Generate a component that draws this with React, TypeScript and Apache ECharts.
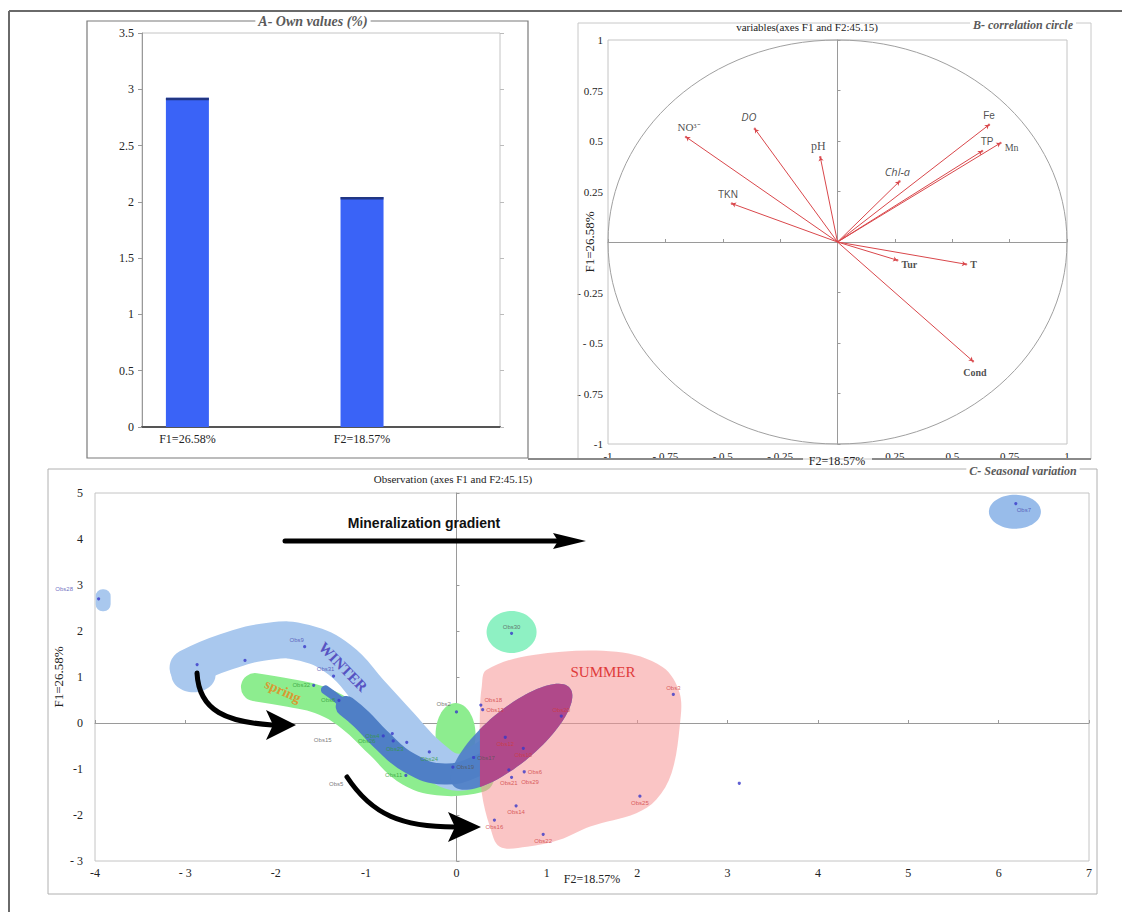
import React, { useEffect, useRef } from 'react';
import * as echarts from 'echarts';

// ---------- Panel A : eigenvalues ----------
const EIGEN_CATEGORIES = ['F1=26.58%', 'F2=18.57%'];
const EIGEN_VALUES = [2.924, 2.043];

// ---------- Panel B : correlation circle ----------
const VARIABLES = ['NO³⁻', 'DO', 'pH', 'TKN', 'Chl-a', 'Fe', 'TP', 'Mn', 'Tur', 'T', 'Cond'];
const VAR_F2 = [-0.66, -0.36, -0.075, -0.46, 0.27, 0.66, 0.63, 0.71, 0.26, 0.56, 0.59];
const VAR_F1 = [0.52, 0.56, 0.42, 0.19, 0.30, 0.58, 0.45, 0.49, -0.09, -0.11, -0.59];

// ---------- Panel C : observations ----------
const OBS_NAMES = [
  'Obs28', 'Obs9', '', '', 'Obs31', 'Obs7',
  'Obs32', 'Obs8', 'Obs4', 'Obs26', '', 'Obs23', 'Obs24', 'Obs11',
  'Obs15', 'Obs5', 'Obs2', 'Obs19', 'Obs17', 'Obs30',
  'Obs3', 'Obs18', 'Obs13', 'Obs20', 'Obs12', 'Obs10', 'Obs6', 'Obs21', 'Obs29',
  'Obs14', 'Obs16', 'Obs22', 'Obs25', '',
];
const OBS_F2 = [
  -3.96, -1.68, -2.34, -2.87, -1.36, 6.19,
  -1.58, -1.30, -0.81, -0.70, -0.71, -0.55, -0.30, -0.56,
  -1.48, -1.33, 0.0, -0.04, 0.19, 0.61,
  2.40, 0.27, 0.29, 1.16, 0.54, 0.74, 0.75, 0.58, 0.61,
  0.66, 0.42, 0.96, 2.03, 3.13,
];
const OBS_F1 = [
  2.70, 1.66, 1.36, 1.27, 1.02, 4.77,
  0.82, 0.49, -0.28, -0.39, -0.23, -0.42, -0.63, -1.14,
  -0.37, -1.33, 0.24, -0.96, -0.75, 1.95,
  0.62, 0.39, 0.29, 0.15, -0.31, -0.55, -1.06, -1.02, -1.18,
  -1.80, -2.11, -2.42, -1.59, -1.31,
];
// W winter, P spring, O other, S summer
const OBS_GROUP = [
  'W', 'W', 'W', 'W', 'W', 'W',
  'P', 'P', 'P', 'P', 'P', 'P', 'P', 'P',
  'O', 'O', 'O', 'O', 'O', 'O',
  'S', 'S', 'S', 'S', 'S', 'S', 'S', 'S', 'S',
  'S', 'S', 'S', 'S', 'S',
];
const OBS_DOT = [
  1, 1, 1, 1, 1, 1,
  1, 1, 1, 1, 1, 1, 1, 1,
  0, 0, 1, 1, 1, 1,
  1, 1, 1, 1, 1, 1, 1, 1, 1,
  1, 1, 1, 1, 1,
];
const OBS_LABEL_POS = [
  'left', 'top', 'top', 'top', 'top', 'bottom',
  'left', 'left', 'left', 'left', 'left', 'bottom', 'bottom', 'left',
  'inside', 'inside', 'left', 'right', 'right', 'top',
  'top', 'right', 'right', 'top', 'bottom', 'bottom', 'right', 'bottom', 'right',
  'bottom', 'bottom', 'bottom', 'bottom', 'bottom',
];
const LABEL_OFFSETS: Record<string, number[]> = {
  Obs28: [-22, -10], Obs9: [-8, 0], Obs7: [8, 0], Obs26: [-14, 0], Obs23: [-12, 0],
  Obs2: [-2, -8], Obs18: [0, -5], Obs21: [0, 6], Obs29: [6, 5], Obs31: [-8, 0],
};
const GROUP_LABEL_COLOR: Record<string, string> = { W: '#4a48b0', P: '#2f9a36', O: '#555555', S: '#cf3b3b' };

// Annotation outlines in F2/F1 coordinates
const WINTER_PATH = [
  [-2.97, 1.2], [-2.56, 1.54], [-2.06, 1.78], [-1.68, 1.74], [-1.29, 1.37], [-0.96, 0.67],
  [-0.63, -0.04], [-0.29, -0.74], [0.02, -1.07], [0.31, -0.8], [0.53, -0.48],
];
const SPRING_PATH = [
  [-2.23, 0.78], [-1.84, 0.65], [-1.51, 0.5], [-1.18, 0.13], [-0.85, -0.48], [-0.52, -1.07],
  [-0.13, -1.28], [0.26, -1.2],
];
const OVERLAP_TIP = [[-1.45, 0.72], [-1.3, 0.5], [-1.1, 0.15]];
const OVERLAP_PATH = [
  [-1.22, 0.36], [-1.05, 0.08], [-0.85, -0.33], [-0.52, -0.87], [-0.13, -1.11], [0.26, -0.91], [0.54, -0.59],
];
const SUMMER_PATH = [
  [0.33, 1.15], [0.85, 1.48], [1.77, 1.55], [2.28, 1.22], [2.47, 0.65], [2.47, -0.08], [2.38, -1.09],
  [2.21, -1.67], [1.99, -1.96], [1.48, -2.25], [1.14, -2.54], [0.78, -2.69], [0.48, -2.69], [0.37, -2.25],
  [0.28, -1.52], [0.26, -0.8], [0.26, 0.28], [0.28, 0.79],
];

const C_SHAPES: any[] = [
  { kind: 'ellipse', c: [0.61, 1.98], rx: 25, ry: 21, fill: '#8ef1c3' },
  { kind: 'ellipse', c: [-0.01, -0.26], rx: 20, ry: 32, fill: '#8ded8f' },
  { kind: 'band', pts: SPRING_PATH, width: 28, stroke: '#8ded8f' },
  { kind: 'ellipse', c: [-2.91, 1.04], rx: 22, ry: 17, fill: '#a9c8ee' },
  { kind: 'band', pts: WINTER_PATH, width: 37, stroke: '#a9c8ee' },
  { kind: 'band', pts: OVERLAP_TIP, width: 9, stroke: '#4f7fc6' },
  { kind: 'band', pts: OVERLAP_PATH, width: 21, stroke: '#4f7fc6' },
  { kind: 'poly', pts: SUMMER_PATH, fill: 'rgba(246,150,150,0.55)' },
  { kind: 'tilted', c: [0.61, -0.3], rx: 76, ry: 27, angle: 40, fill: 'rgba(79,127,198,0.92)' },
  { kind: 'tilted', c: [0.61, -0.3], rx: 76, ry: 27, angle: 40, fill: '#b0498a', clipX: 0.26 },
  { kind: 'rect', c: [-3.91, 2.67], w: 15, h: 22, fill: '#a9c8ee' },
  { kind: 'ellipse', c: [6.18, 4.59], rx: 26, ry: 17, fill: '#98bcea' },
];

const VAR_LABEL: Record<string, any> = {
  'NO³⁻': { position: 'top', fontFamily: 'Liberation Serif', fontSize: 11, offset: [3, 0] },
  DO: { position: 'top', fontFamily: 'Open Sans', fontStyle: 'italic', fontSize: 11, offset: [-6, -3] },
  pH: { position: 'top', fontFamily: 'Liberation Serif', fontSize: 12, offset: [-2, -1] },
  TKN: { position: 'top', fontFamily: 'Liberation Sans', fontSize: 10, offset: [-4, 0] },
  'Chl-a': { position: 'top', fontFamily: 'Open Sans', fontStyle: 'italic', fontSize: 11, offset: [-2, 0] },
  Fe: { position: 'top', fontFamily: 'Liberation Sans', fontSize: 10, offset: [0, 0] },
  TP: { position: 'top', fontFamily: 'Liberation Sans', fontSize: 10, offset: [5, 0] },
  Mn: { position: 'right', fontFamily: 'Liberation Serif', fontSize: 10, offset: [0, 4] },
  Tur: { position: 'right', fontFamily: 'Liberation Serif', fontWeight: 'bold', fontSize: 10, offset: [0, 4] },
  T: { position: 'right', fontFamily: 'Liberation Serif', fontWeight: 'bold', fontSize: 10, offset: [0, 0] },
  Cond: { position: 'bottom', fontFamily: 'Liberation Serif', fontWeight: 'bold', fontSize: 10, offset: [2, 2] },
};

const SERIF = 'Liberation Serif';

function fmtSigned(v: number) {
  if (v === 0) return '';
  if (v < 0) return v === -1 ? '-1' : '- ' + String(Math.abs(v));
  return String(v);
}

function ellipsePoints(c: number[], rx: number, ry: number, angleDeg: number) {
  const a = (angleDeg * Math.PI) / 180;
  const ca = Math.cos(a), sa = Math.sin(a);
  const pts: number[][] = [];
  for (let k = 0; k < 96; k++) {
    const t = (k / 96) * Math.PI * 2;
    const ex = rx * Math.cos(t), ey = ry * Math.sin(t);
    pts.push([c[0] + ex * ca + ey * sa, c[1] - ex * sa + ey * ca]);
  }
  return pts;
}

function clipRight(pts: number[][], bx: number) {
  const out: number[][] = [];
  const n = pts.length;
  const inter = (p: number[], q: number[]) => {
    const t = (bx - p[0]) / (q[0] - p[0]);
    return [bx, p[1] + t * (q[1] - p[1])];
  };
  for (let i = 0; i < n; i++) {
    const cur = pts[i], prev = pts[(i - 1 + n) % n];
    const ci = cur[0] >= bx, pi = prev[0] >= bx;
    if (ci) {
      if (!pi) out.push(inter(prev, cur));
      out.push(cur);
    } else if (pi) out.push(inter(prev, cur));
  }
  return out;
}

function renderShapeC(params: any, api: any) {
  const s = C_SHAPES[params.dataIndex];
  if (s.kind === 'band') {
    return {
      type: 'polyline', silent: true,
      shape: { points: s.pts.map((p: number[]) => api.coord(p)), smooth: 0.45 },
      style: { fill: 'none', stroke: s.stroke, lineWidth: s.width, lineCap: 'round', lineJoin: 'round' },
    };
  }
  if (s.kind === 'poly') {
    return {
      type: 'polygon', silent: true,
      shape: { points: s.pts.map((p: number[]) => api.coord(p)), smooth: 0.35 },
      style: { fill: s.fill, stroke: 'none' },
    };
  }
  if (s.kind === 'ellipse') {
    const c = api.coord(s.c);
    return { type: 'ellipse', silent: true, shape: { cx: c[0], cy: c[1], rx: s.rx, ry: s.ry }, style: { fill: s.fill } };
  }
  if (s.kind === 'rect') {
    const c = api.coord(s.c);
    return {
      type: 'rect', silent: true,
      shape: { x: c[0] - s.w / 2, y: c[1] - s.h / 2, width: s.w, height: s.h, r: 7 },
      style: { fill: s.fill },
    };
  }
  const c = api.coord(s.c);
  let pts = ellipsePoints(c, s.rx, s.ry, s.angle);
  if (s.clipX !== undefined) pts = clipRight(pts, api.coord([s.clipX, 0])[0]);
  return { type: 'polygon', silent: true, shape: { points: pts }, style: { fill: s.fill } };
}

function buildOption() {
  const axisFontB = { fontFamily: SERIF, fontSize: 11, color: '#222' };

  const varData = VARIABLES.map((n, i) => {
    const st = VAR_LABEL[n];
    return {
      value: [VAR_F2[i], VAR_F1[i]],
      name: n,
      label: { show: true, formatter: n, color: '#222', distance: 3, ...st },
    };
  });

  const obsData = OBS_NAMES.map((n, i) => ({
    value: [OBS_F2[i], OBS_F1[i]],
    name: n,
    symbolSize: OBS_DOT[i] ? 3.2 : 0,
    label: {
      show: n !== '',
      formatter: n,
      position: OBS_LABEL_POS[i],
      distance: 2,
      color: GROUP_LABEL_COLOR[OBS_GROUP[i]],
      offset: LABEL_OFFSETS[n] || [0, 0],
    },
  }));

  const gridBorder = '#c4c4c4';

  const text = (x: number, y: number, str: string, style: any, extra: any = {}) => ({
    type: 'text', x, y, z: 100, silent: true, ...extra,
    style: { text: str, align: 'center', verticalAlign: 'middle', textAlign: 'center', textVerticalAlign: 'middle', ...style },
  });
  const titleStyle = {
    fontFamily: SERIF, fontWeight: 'bold', fontStyle: 'italic', fill: '#5a5a5a',
    backgroundColor: '#fff', padding: [0, 3],
  };
  const nameStyle = { fontFamily: SERIF, fontSize: 12, color: '#222' };

  return {
    animation: false,
    backgroundColor: '#ffffff',
    textStyle: { fontFamily: SERIF },
    grid: [
      { left: 142, top: 33, width: 358, height: 394, show: true, borderColor: gridBorder, borderWidth: 1 },
      { left: 608, top: 40, width: 459, height: 404, show: true, borderColor: gridBorder, borderWidth: 1 },
      { left: 95, top: 493, width: 994, height: 368, show: true, borderColor: gridBorder, borderWidth: 1 },
    ],
    xAxis: [
      {
        gridIndex: 0, type: 'value', min: 0.74, max: 2.79,
        axisLine: { show: true, lineStyle: { color: '#555', width: 2 } },
        axisTick: { show: false }, splitLine: { show: false },
        axisLabel: {
          fontFamily: SERIF, fontSize: 12, color: '#222', margin: 6, showMinLabel: false, showMaxLabel: false,
          formatter: (v: number) => (Math.abs(v - 1) < 1e-9 ? EIGEN_CATEGORIES[0] : Math.abs(v - 2) < 1e-9 ? EIGEN_CATEGORIES[1] : ''),
        },
      },
      {
        gridIndex: 1, type: 'value', min: -1, max: 1, interval: 0.25,
        axisLine: { show: false, onZero: false }, axisTick: { show: false }, splitLine: { show: false },
        axisLabel: { ...axisFontB, margin: 6, formatter: fmtSigned },
      },
      {
        gridIndex: 1, type: 'value', min: -1, max: 1, interval: 0.25,
        axisLine: { show: true, onZero: true, lineStyle: { color: '#9a9a9a', width: 1 } },
        axisTick: { show: true, length: 3, lineStyle: { color: '#9a9a9a' } },
        axisLabel: { show: false }, splitLine: { show: false },
      },
      {
        gridIndex: 2, type: 'value', min: -4, max: 7, interval: 1,
        axisLine: { show: false, onZero: false }, axisTick: { show: false }, splitLine: { show: false },
        axisLabel: { fontFamily: SERIF, fontSize: 12, color: '#222', margin: 6, formatter: (v: number) => (v === -3 ? '- 3' : String(v)) },
        name: 'F2=18.57%', nameLocation: 'middle', nameGap: 12, nameMoveOverlap: false,
        nameTextStyle: nameStyle,
      },
      {
        gridIndex: 2, type: 'value', min: -4, max: 7, interval: 1,
        axisLine: { show: true, onZero: true, lineStyle: { color: '#9a9a9a', width: 1 } },
        axisTick: { show: true, length: 3, lineStyle: { color: '#9a9a9a' } },
        axisLabel: { show: false }, splitLine: { show: false },
      },
    ],
    yAxis: [
      {
        gridIndex: 0, type: 'value', min: 0, max: 3.5, interval: 0.5,
        axisLine: { show: true, lineStyle: { color: '#999' } },
        axisTick: { show: true, length: 4, lineStyle: { color: '#999' } },
        splitLine: { show: false },
        axisLabel: { fontFamily: SERIF, fontSize: 12, color: '#222', margin: 8 },
      },
      {
        gridIndex: 0, type: 'value', min: 0, max: 3.5, interval: 0.5, position: 'right',
        axisLine: { show: false }, axisTick: { show: true, length: 4, lineStyle: { color: '#bbb' } },
        splitLine: { show: false }, axisLabel: { show: false },
      },
      {
        gridIndex: 1, type: 'value', min: -1, max: 1, interval: 0.25,
        axisLine: { show: false, onZero: false }, axisTick: { show: false }, splitLine: { show: false },
        axisLabel: { ...axisFontB, margin: 5, formatter: fmtSigned },
        name: 'F1=26.58%', nameLocation: 'middle', nameGap: 12, nameRotate: 90, nameMoveOverlap: false,
        nameTextStyle: { ...nameStyle, fontSize: 13 },
      },
      {
        gridIndex: 1, type: 'value', min: -1, max: 1, interval: 0.25,
        axisLine: { show: true, onZero: true, lineStyle: { color: '#9a9a9a', width: 1 } },
        axisTick: { show: true, length: 3, lineStyle: { color: '#9a9a9a' } },
        axisLabel: { show: false }, splitLine: { show: false },
      },
      {
        gridIndex: 2, type: 'value', min: -3, max: 5, interval: 1,
        axisLine: { show: false, onZero: false }, axisTick: { show: false }, splitLine: { show: false },
        axisLabel: { fontFamily: SERIF, fontSize: 12, color: '#222', margin: 12, formatter: (v: number) => (v === -3 ? '- 3' : String(v)) },
        name: 'F1=26.58%', nameLocation: 'middle', nameGap: 30, nameRotate: 90, nameMoveOverlap: false,
        nameTextStyle: { ...nameStyle, fontSize: 13 },
      },
      {
        gridIndex: 2, type: 'value', min: -3, max: 5, interval: 1,
        axisLine: { show: true, onZero: true, lineStyle: { color: '#9a9a9a', width: 1 } },
        axisTick: { show: true, length: 3, lineStyle: { color: '#9a9a9a' } },
        axisLabel: { show: false }, splitLine: { show: false },
      },
    ],
    series: [
      {
        type: 'bar', xAxisIndex: 0, yAxisIndex: 0, barWidth: 43,
        data: EIGEN_VALUES.map((v, i) => [i + 1, v]),
        itemStyle: { color: '#3a63f7' },
      },
      {
        type: 'scatter', xAxisIndex: 0, yAxisIndex: 0, symbol: 'rect', symbolSize: [43, 2.5], symbolOffset: [0, 1.2],
        data: EIGEN_VALUES.map((v, i) => [i + 1, v]),
        itemStyle: { color: '#1b2a66' }, z: 5,
      },
      {
        type: 'custom', xAxisIndex: 1, yAxisIndex: 2, clip: false, z: 1,
        data: [[0, 0]],
        renderItem: (_p: any, api: any) => {
          const c = api.coord([0, 0]);
          const s = api.size([1, 1]);
          return {
            type: 'ellipse', silent: true,
            shape: { cx: c[0], cy: c[1], rx: s[0], ry: s[1] },
            style: { fill: 'none', stroke: '#a0a0a0', lineWidth: 1 },
          };
        },
      },
      {
        type: 'lines', coordinateSystem: 'cartesian2d', xAxisIndex: 1, yAxisIndex: 2,
        symbol: ['none', 'arrow'], symbolSize: 4,
        lineStyle: { color: '#d9474b', width: 1, opacity: 1 },
        data: VARIABLES.map((n, i) => ({ name: n, coords: [[0, 0], [VAR_F2[i], VAR_F1[i]]] })),
        z: 3,
      },
      {
        type: 'scatter', xAxisIndex: 1, yAxisIndex: 2, symbolSize: 2.5,
        itemStyle: { color: '#d9474b' }, data: varData, z: 4,
      },
      {
        type: 'custom', xAxisIndex: 3, yAxisIndex: 4, clip: false, z: 1,
        data: C_SHAPES.map(() => [0, 0]),
        renderItem: renderShapeC,
      },
      {
        type: 'scatter', xAxisIndex: 3, yAxisIndex: 4, symbolSize: 3.2,
        itemStyle: { color: '#3838c8' },
        label: { fontFamily: 'Liberation Sans', fontSize: 6 },
        data: obsData, z: 4,
      },
    ],
    graphic: [
      { type: 'line', z: 100, silent: true, shape: { x1: 9, y1: 11, x2: 9, y2: 912 }, style: { stroke: '#6a6a6a', lineWidth: 2 } },
      { type: 'line', z: 100, silent: true, shape: { x1: 9, y1: 11, x2: 1122, y2: 11 }, style: { stroke: '#6a6a6a', lineWidth: 2 } },
      { type: 'rect', z: 1, silent: true, shape: { x: 87, y: 21, width: 441, height: 437 }, style: { fill: 'none', stroke: '#7a7a7a', lineWidth: 1.2 } },
      { type: 'rect', z: 1, silent: true, shape: { x: 578, y: 23, width: 513, height: 436 }, style: { fill: 'none', stroke: '#c8c8c8', lineWidth: 1 } },
      { type: 'line', z: 1, silent: true, shape: { x1: 528, y1: 459, x2: 803, y2: 459 }, style: { stroke: '#8a8a8a', lineWidth: 2 } },
      { type: 'line', z: 1, silent: true, shape: { x1: 872, y1: 459, x2: 1091, y2: 459 }, style: { stroke: '#8a8a8a', lineWidth: 2 } },
      { type: 'rect', z: 1, silent: true, shape: { x: 48, y: 469, width: 1049, height: 425 }, style: { fill: 'none', stroke: '#b0b0b0', lineWidth: 1 } },
      text(837, 461, 'F2=18.57%', { fontFamily: SERIF, fontSize: 12, fill: '#222' }),
      text(313, 21, 'A- Own values (%)', { ...titleStyle, fontSize: 14 }),
      text(807, 27, 'variables(axes F1 and F2:45.15)', { fontFamily: SERIF, fontSize: 11, fill: '#222' }),
      text(1023, 25, 'B- correlation circle', { ...titleStyle, fontSize: 12 }),
      text(453, 479, 'Observation (axes F1 and F2:45.15)', { fontFamily: SERIF, fontSize: 11, fill: '#222' }),
      text(1023, 471, 'C- Seasonal variation', { ...titleStyle, fontSize: 12 }),
      text(424, 523, 'Mineralization gradient', { fontFamily: 'Liberation Sans', fontWeight: 'bold', fontSize: 14, fill: '#111' }),
      { type: 'line', z: 100, silent: true, shape: { x1: 285, y1: 541, x2: 562, y2: 541 }, style: { stroke: '#000', lineWidth: 5, lineCap: 'round' } },
      { type: 'polygon', z: 100, silent: true, shape: { points: [[553, 533], [586, 541], [553, 549], [558, 541]] }, style: { fill: '#000' } },
      { type: 'bezierCurve', z: 100, silent: true, shape: { x1: 197, y1: 673, cpx1: 199, cpy1: 712, cpx2: 228, cpy2: 722, x2: 272, y2: 725 }, style: { stroke: '#000', lineWidth: 5, fill: 'none', lineCap: 'round' } },
      { type: 'polygon', z: 100, silent: true, shape: { points: [[266, 710], [296, 725], [266, 740], [273, 725]] }, style: { fill: '#000' } },
      { type: 'bezierCurve', z: 100, silent: true, shape: { x1: 347, y1: 777, cpx1: 372, cpy1: 815, cpx2: 402, cpy2: 827, x2: 455, y2: 827 }, style: { stroke: '#000', lineWidth: 5, fill: 'none', lineCap: 'round' } },
      { type: 'polygon', z: 100, silent: true, shape: { points: [[448, 812], [481, 827], [448, 842], [455, 827]] }, style: { fill: '#000' } },
      text(343, 667, 'WINTER', { fontFamily: SERIF, fontWeight: 'bold', fontSize: 15, fill: '#5753c2' }, { rotation: -0.8 }),
      text(283, 691, 'spring', { fontFamily: SERIF, fontWeight: 'bold', fontSize: 14, fill: '#d99a32' }, { rotation: -0.43 }),
      text(603, 672, 'SUMMER', { fontFamily: SERIF, fontSize: 15, fill: '#e03a3a' }),
    ],
  };
}

export default function App() {
  const ref = useRef<HTMLDivElement>(null);
  useEffect(() => {
    if (!ref.current) return;
    const chart = echarts.init(ref.current, undefined, { renderer: 'svg' });
    chart.setOption(buildOption() as any);
    return () => chart.dispose();
  }, []);
  return (
    <div
      ref={ref}
      style={{ position: 'absolute', left: 0, top: 0, width: 1122, height: 912, background: '#fff' }}
    />
  );
}
